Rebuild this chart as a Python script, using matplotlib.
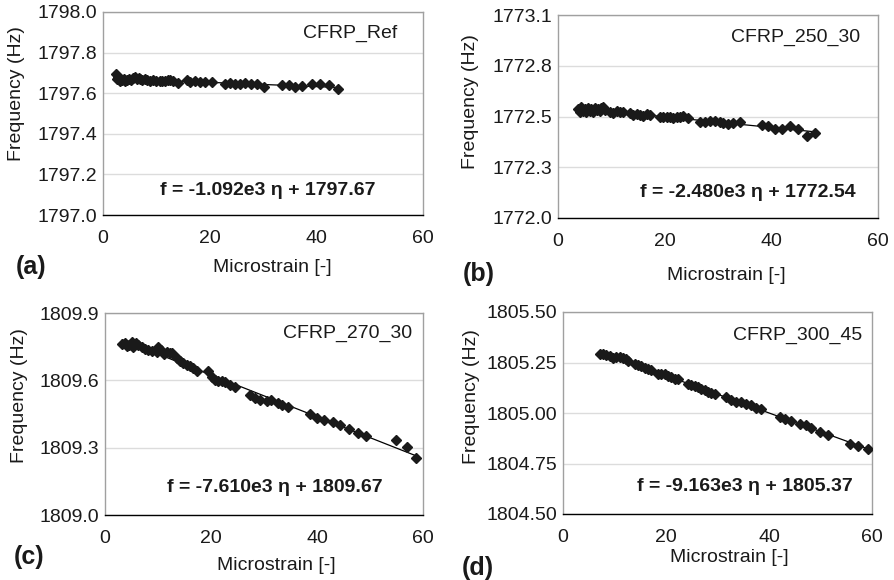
import matplotlib
matplotlib.use("Agg")
import matplotlib.pyplot as plt
import numpy as np

plt.rcParams['font.family'] = ['Liberation Sans', 'DejaVu Sans']

# (a) CFRP_Ref
strain_a = [2.5, 2.7, 2.9, 3.1, 3.3, 3.6, 3.9, 4.2, 4.5, 4.8, 5.2, 5.6, 6.0, 6.3, 6.7, 7.0,
            7.4, 7.8, 8.3, 8.8, 9.4, 10.0, 10.6, 11.1, 11.6, 12.1, 12.5, 13.1, 14.1, 15.7,
            16.3, 17.2, 18.2, 19.1, 20.4, 22.9, 23.8, 24.7, 25.7, 26.6, 27.7, 28.8, 30.1,
            33.5, 34.8, 36.0, 37.3, 39.1, 40.7, 42.3, 44.0]
freq_a = [1797.693, 1797.669, 1797.680, 1797.660, 1797.672, 1797.664, 1797.670, 1797.658,
          1797.667, 1797.672, 1797.665, 1797.676, 1797.678, 1797.670, 1797.674, 1797.668,
          1797.666, 1797.670, 1797.664, 1797.662, 1797.665, 1797.659, 1797.661, 1797.660,
          1797.661, 1797.664, 1797.665, 1797.660, 1797.651, 1797.663, 1797.655, 1797.659,
          1797.654, 1797.654, 1797.654, 1797.643, 1797.648, 1797.646, 1797.644, 1797.648,
          1797.646, 1797.644, 1797.631, 1797.638, 1797.638, 1797.631, 1797.636, 1797.643,
          1797.643, 1797.638, 1797.623]

# (b) CFRP_250_30
strain_b = [3.76, 4.08, 4.40, 4.70, 5.02, 5.34, 5.64, 5.96, 6.28, 6.58, 6.90, 7.22, 7.52,
            7.84, 8.15, 8.46, 8.78, 9.71, 10.33, 10.97, 11.59, 12.21, 13.47, 14.09, 14.73,
            15.35, 15.97, 16.61, 17.23, 19.11, 19.73, 20.37, 20.99, 21.61, 22.25, 22.87,
            23.49, 24.43, 26.63, 27.57, 28.50, 29.44, 30.38, 31.00, 31.94, 32.88, 34.14,
            38.22, 39.46, 40.72, 41.98, 43.54, 44.98, 46.68, 48.23]
freq_b = [1772.590, 1772.577, 1772.600, 1772.582, 1772.590, 1772.577, 1772.595, 1772.582,
          1772.590, 1772.577, 1772.595, 1772.586, 1772.590, 1772.582, 1772.595, 1772.600,
          1772.586, 1772.577, 1772.568, 1772.582, 1772.572, 1772.577, 1772.568, 1772.559,
          1772.564, 1772.559, 1772.554, 1772.564, 1772.559, 1772.550, 1772.546, 1772.546,
          1772.546, 1772.541, 1772.546, 1772.550, 1772.554, 1772.541, 1772.518, 1772.518,
          1772.523, 1772.523, 1772.518, 1772.514, 1772.510, 1772.514, 1772.518, 1772.505,
          1772.496, 1772.481, 1772.481, 1772.496, 1772.481, 1772.445, 1772.463]

# (c) CFRP_270_30
strain_c = [3.27, 3.77, 4.08, 4.52, 5.02, 5.34, 5.78, 6.16, 6.91, 7.54, 8.17, 8.80, 9.74,
            10.05, 10.56, 11.18, 11.63, 12.25, 12.57, 13.51, 14.14, 14.76, 15.40, 16.02,
            16.65, 17.28, 19.48, 20.11, 20.74, 21.36, 22.00, 22.62, 23.56, 24.51, 27.33,
            28.28, 29.22, 30.48, 31.29, 32.55, 33.42, 34.55, 38.64, 40.09, 41.28, 43.04,
            44.30, 46.00, 47.75, 49.33, 54.99, 57.06, 58.76]
freq_c = [1809.762, 1809.766, 1809.751, 1809.759, 1809.771, 1809.747, 1809.766, 1809.756,
          1809.747, 1809.741, 1809.736, 1809.732, 1809.726, 1809.747, 1809.736, 1809.717,
          1809.726, 1809.721, 1809.721, 1809.699, 1809.687, 1809.677, 1809.669, 1809.662,
          1809.655, 1809.643, 1809.640, 1809.617, 1809.602, 1809.598, 1809.595, 1809.592,
          1809.580, 1809.570, 1809.536, 1809.521, 1809.512, 1809.509, 1809.512, 1809.500,
          1809.491, 1809.483, 1809.449, 1809.431, 1809.424, 1809.414, 1809.399, 1809.384,
          1809.367, 1809.350, 1809.335, 1809.305, 1809.256]

# (d) CFRP_300_45
strain_d = [7.13, 7.77, 8.42, 9.07, 9.71, 10.36, 11.01, 11.65, 12.30, 12.62, 13.92, 14.56,
            15.22, 15.86, 16.50, 17.17, 18.45, 19.11, 19.75, 20.39, 21.05, 21.69, 22.33,
            24.27, 24.93, 25.57, 26.21, 26.87, 27.51, 28.16, 28.82, 29.46, 31.73, 32.70,
            33.67, 34.64, 35.61, 36.58, 37.55, 38.52, 42.08, 43.05, 44.35, 45.96, 47.26,
            48.23, 49.84, 51.46, 55.67, 57.28, 59.22]
freq_d = [1805.294, 1805.291, 1805.286, 1805.281, 1805.274, 1805.278, 1805.278, 1805.274,
          1805.265, 1805.258, 1805.242, 1805.237, 1805.232, 1805.225, 1805.220, 1805.212,
          1805.195, 1805.195, 1805.192, 1805.182, 1805.176, 1805.166, 1805.166, 1805.146,
          1805.138, 1805.134, 1805.129, 1805.121, 1805.113, 1805.105, 1805.100, 1805.093,
          1805.077, 1805.064, 1805.055, 1805.054, 1805.047, 1805.039, 1805.026, 1805.022,
          1804.978, 1804.968, 1804.961, 1804.948, 1804.940, 1804.928, 1804.907, 1804.891,
          1804.849, 1804.836, 1804.820]

names = ['CFRP_Ref', 'CFRP_250_30', 'CFRP_270_30', 'CFRP_300_45']
equations = ['f = -1.092e3 \u03b7 + 1797.67', 'f = -2.480e3 \u03b7 + 1772.54',
             'f = -7.610e3 \u03b7 + 1809.67', 'f = -9.163e3 \u03b7 + 1805.37']
panel_tags = ['(a)', '(b)', '(c)', '(d)']
yticks_list = [[1797.0, 1797.2, 1797.4, 1797.6, 1797.8, 1798.0],
               [1772.0, 1772.275, 1772.55, 1772.825, 1773.1],
               [1809.0, 1809.3, 1809.6, 1809.9],
               [1804.50, 1804.75, 1805.00, 1805.25, 1805.50]]
ytick_labels = [['1797.0', '1797.2', '1797.4', '1797.6', '1797.8', '1798.0'],
                ['1772.0', '1772.3', '1772.5', '1772.8', '1773.1'],
                ['1809.0', '1809.3', '1809.6', '1809.9'],
                ['1804.50', '1804.75', '1805.00', '1805.25', '1805.50']]
data = [(strain_a, freq_a), (strain_b, freq_b), (strain_c, freq_c), (strain_d, freq_d)]

W, H = 895, 580
fig = plt.figure(figsize=(W / 100, H / 100), dpi=100)

# pixel boxes: left, top, right, bottom
boxes = [(103, 12, 423, 215), (558, 15, 878, 218), (105, 313, 423, 515), (563, 312, 872, 514)]
name_pos = [(0.92, 0.895), (0.944, 0.89), (0.965, 0.90), (0.967, 0.886)]
eq_pos = [(0.178, 0.123), (0.256, 0.128), (0.195, 0.134), (0.24, 0.134)]
xlab_px = [(272, 267), (726, 275), (276, 565), (729, 558)]
ylab_px = [(17, 94), (471, 102), (20, 396), (472, 397)]
tag_px = [(31, 267), (479, 274), (29, 557), (478, 568)]

for i, (xs, ys) in enumerate(data):
    l, t, r, b = boxes[i]
    ax = fig.add_axes([l / W, 1 - b / H, (r - l) / W, (b - t) / H])
    xs = np.array(xs)
    ys = np.array(ys)
    k, c0 = np.polyfit(xs, ys, 1)
    xl = np.array([xs.min(), xs.max()])
    ax.plot(xl, k * xl + c0, color='black', linewidth=0.9, zorder=2)
    ax.plot(xs, ys, 'D', color='#1a1a1a', markersize=5, zorder=3)

    ax.set_xlim(0, 60)
    ax.set_xticks([0, 20, 40, 60])
    ax.set_ylim(yticks_list[i][0], yticks_list[i][-1])
    ax.set_yticks(yticks_list[i])
    ax.set_yticklabels(ytick_labels[i])
    ax.tick_params(length=0, labelsize=14, colors='#1a1a1a')
    ax.tick_params(axis='y', pad=4)
    ax.tick_params(axis='x', pad=11)
    ax.yaxis.grid(True, color='#dcdcdc', linewidth=1)
    ax.set_axisbelow(True)
    for s in ['left', 'top', 'right']:
        ax.spines[s].set_color('#a0a0a0')
        ax.spines[s].set_linewidth(1)
    ax.spines['bottom'].set_color('black')
    ax.spines['bottom'].set_linewidth(1)

    ax.text(name_pos[i][0], name_pos[i][1], names[i], transform=ax.transAxes,
            ha='right', va='center', fontsize=14, color='#1a1a1a')
    ax.text(eq_pos[i][0], eq_pos[i][1], equations[i], transform=ax.transAxes,
            ha='left', va='center', fontsize=14, fontweight='bold', color='#1a1a1a')

    fig.text(xlab_px[i][0] / W, 1 - xlab_px[i][1] / H, 'Microstrain [-]',
             ha='center', va='center', fontsize=14, color='#1a1a1a')
    fig.text(ylab_px[i][0] / W, 1 - ylab_px[i][1] / H, 'Frequency (Hz)', rotation=90,
             ha='center', va='center', fontsize=14, color='#1a1a1a')
    fig.text(tag_px[i][0] / W, 1 - tag_px[i][1] / H, panel_tags[i],
             ha='center', va='center', fontsize=18, fontweight='bold', color='#1a1a1a')

fig.savefig('out.png', dpi=100)
